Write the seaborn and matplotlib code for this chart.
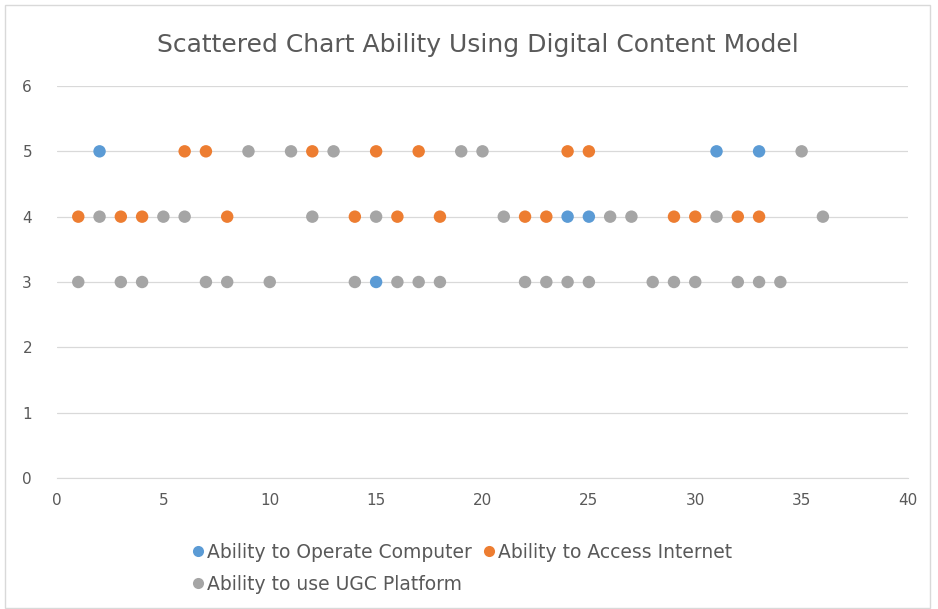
import matplotlib
matplotlib.use("Agg")
import matplotlib.pyplot as plt
import seaborn as sns
import pandas as pd
from matplotlib.lines import Line2D
from matplotlib.patches import Rectangle

series_names = ["Ability to Operate Computer", "Ability to Access Internet", "Ability to use UGC Platform"]
colors = ["#5B9BD5", "#ED7D31", "#A5A5A5"]

computer_x = [2, 31, 33, 24, 25, 15]
computer_y = [5, 5, 5, 4, 4, 3]

internet_x = [6, 7, 12, 15, 17, 24, 25,
              1, 3, 4, 8, 14, 16, 18, 22, 23, 29, 30, 32, 33]
internet_y = [5, 5, 5, 5, 5, 5, 5,
              4, 4, 4, 4, 4, 4, 4, 4, 4, 4, 4, 4, 4]

ugc_x = [9, 11, 13, 19, 20, 35,
         2, 5, 6, 12, 15, 21, 26, 27, 31, 36,
         1, 3, 4, 7, 8, 10, 14, 16, 17, 18, 22, 23, 24, 25, 28, 29, 30, 32, 33, 34]
ugc_y = [5, 5, 5, 5, 5, 5,
         4, 4, 4, 4, 4, 4, 4, 4, 4, 4,
         3, 3, 3, 3, 3, 3, 3, 3, 3, 3, 3, 3, 3, 3, 3, 3, 3, 3, 3, 3]

x_ticks = [0, 5, 10, 15, 20, 25, 30, 35, 40]
y_ticks = [0, 1, 2, 3, 4, 5, 6]

df = pd.concat([
    pd.DataFrame({"x": computer_x, "y": computer_y, "series": series_names[0]}),
    pd.DataFrame({"x": internet_x, "y": internet_y, "series": series_names[1]}),
    pd.DataFrame({"x": ugc_x, "y": ugc_y, "series": series_names[2]}),
], ignore_index=True)

sns.set_style("white")
plt.rcParams["font.family"] = ["DejaVu Sans"]
text_color = "#595959"

fig = plt.figure(figsize=(9.38, 6.09), dpi=100)
ax = fig.add_axes([57/938, 1-478/609, (908-57)/938, (478-86)/609])

sns.scatterplot(data=df, x="x", y="y", hue="series", hue_order=series_names,
                palette=colors, s=80, linewidth=0, ax=ax, legend=False, zorder=3)

ax.set_xlim(0, 40)
ax.set_ylim(0, 6)
ax.set_xticks(x_ticks)
ax.set_yticks(y_ticks)
ax.set_xlabel("")
ax.set_ylabel("")
ax.yaxis.grid(True, color="#D9D9D9", linewidth=0.9)
ax.xaxis.grid(False)
for side in ["top", "right", "left"]:
    ax.spines[side].set_visible(False)
ax.spines["bottom"].set_color("#D9D9D9")
ax.tick_params(axis="both", length=0, labelcolor=text_color, labelsize=11)
ax.tick_params(axis="x", pad=11)
ax.tick_params(axis="y", pad=18)

fig.text(478/938, 1-45/609, "Scattered Chart Ability Using Digital Content Model",
         ha="center", va="center", fontsize=18, color=text_color)

handles = [Line2D([0], [0], marker="o", linestyle="", markersize=8,
                  markerfacecolor=c, markeredgewidth=0) for c in colors]
order = [0, 2, 1]
leg = fig.legend([handles[i] for i in order], [series_names[i] for i in order],
                 ncol=2, loc="upper left", bbox_to_anchor=(184/938, 1-535/609),
                 frameon=False, fontsize=13.5, handletextpad=0.1, columnspacing=0.6,
                 handlelength=0.7, labelspacing=0.7, borderaxespad=0)
for t in leg.get_texts():
    t.set_color(text_color)

fig.patches.append(Rectangle((5/938, 0.002), 925/938, 1-5/609-0.002, transform=fig.transFigure,
                             fill=False, edgecolor="#D9D9D9", linewidth=1.0))

fig.savefig("out.png", dpi=100)
